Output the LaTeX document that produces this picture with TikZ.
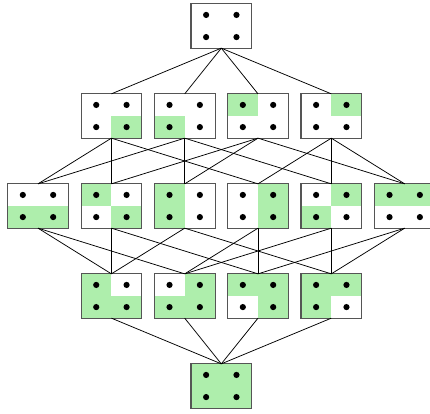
\documentclass[tikz,border=0pt]{standalone}
\usetikzlibrary{calc}
\definecolor{lgreen}{RGB}{174,238,172}
\definecolor{bordergray}{RGB}{85,85,85}
\tikzset{
  cellnode/.style={rectangle, minimum width=60.7pt, minimum height=44.3pt, inner sep=0pt, outer sep=0pt, fill=white},
  quad/.style={fill=lgreen},
  border/.style={draw=bordergray, line width=1.1pt},
  dotmark/.style={fill=black},
  edge/.style={draw=black, line width=0.75pt}
}
\newcommand{\cellbox}[7]{%
  \node[cellnode] (#1) at (#2,#3) {};
  \ifnum#4=1 \fill[quad] (#1.north west) rectangle (#1.center);\fi
  \ifnum#5=1 \fill[quad] (#1.north) rectangle (#1.east);\fi
  \ifnum#6=1 \fill[quad] (#1.west) rectangle (#1.south);\fi
  \ifnum#7=1 \fill[quad] (#1.center) rectangle (#1.south east);\fi
  \fill[dotmark] ($(#1.north west)!0.25!(#1.south east)$) circle (3.1pt);
  \fill[dotmark] ($(#1.north east)!0.25!(#1.south west)$) circle (3.1pt);
  \fill[dotmark] ($(#1.south west)!0.25!(#1.north east)$) circle (3.1pt);
  \fill[dotmark] ($(#1.south east)!0.25!(#1.north west)$) circle (3.1pt);
  \draw[border] (#1.north west) rectangle (#1.south east);
}
\begin{document}
\begin{tikzpicture}[x=1pt,y=-1pt]
\useasboundingbox (0,0) rectangle (430,413);
\clip (0,0) rectangle (430,413);
% row 1
\cellbox{t}{221.3}{26}{0}{0}{0}{0}
% row 2
\cellbox{a1}{111.4}{116}{0}{0}{0}{1}
\cellbox{a2}{184.7}{116}{0}{0}{1}{0}
\cellbox{a3}{258}{116}{1}{0}{0}{0}
\cellbox{a4}{331.3}{116}{0}{1}{0}{0}
% row 3
\cellbox{b1}{38}{206}{0}{0}{1}{1}
\cellbox{b2}{111.4}{206}{1}{0}{0}{1}
\cellbox{b3}{184.7}{206}{1}{0}{1}{0}
\cellbox{b4}{258}{206}{0}{1}{0}{1}
\cellbox{b5}{331.3}{206}{0}{1}{1}{0}
\cellbox{b6}{404.7}{206}{1}{1}{0}{0}
% row 4
\cellbox{c1}{111.4}{296}{1}{0}{1}{1}
\cellbox{c2}{184.7}{296}{0}{1}{1}{1}
\cellbox{c3}{258}{296}{1}{1}{0}{1}
\cellbox{c4}{331.3}{296}{1}{1}{1}{0}
% row 5
\cellbox{z}{221.3}{386}{1}{1}{1}{1}
% edges
\foreach \n in {a1,a2,a3,a4} \draw[edge] (t.south) -- (\n.north);
\foreach \u/\v in {a1/b1,a1/b2,a1/b4,a2/b1,a2/b3,a2/b5,a3/b2,a3/b3,a3/b6,a4/b4,a4/b5,a4/b6,
  b1/c1,b1/c2,b2/c1,b2/c3,b3/c1,b3/c4,b4/c2,b4/c3,b5/c2,b5/c4,b6/c3,b6/c4}
  \draw[edge] (\u.south) -- (\v.north);
\foreach \n in {c1,c2,c3,c4} \draw[edge] (\n.south) -- (z.north);
\end{tikzpicture}
\end{document}
